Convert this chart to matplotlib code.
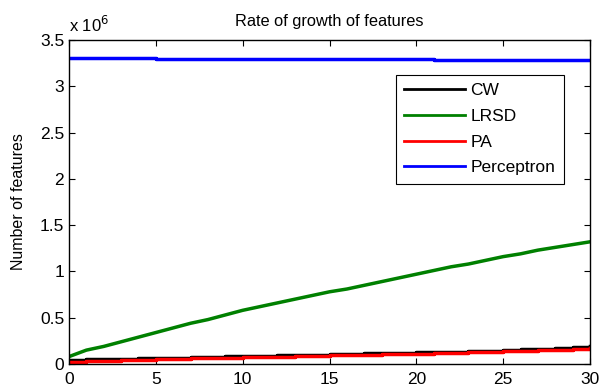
import matplotlib
matplotlib.use("Agg")
import matplotlib.pyplot as plt
import numpy as np

plt.rcParams['font.family'] = ['Liberation Sans', 'DejaVu Sans']

epochs = np.arange(0, 31)

# number of features, in millions
cw = [0.045, 0.050, 0.055, 0.058, 0.062, 0.066, 0.070, 0.074, 0.078, 0.082,
      0.086, 0.090, 0.094, 0.098, 0.102, 0.106, 0.110, 0.114, 0.118, 0.122,
      0.126, 0.130, 0.135, 0.140, 0.145, 0.150, 0.158, 0.166, 0.174, 0.184, 0.198]
lrsd = [0.08, 0.15, 0.19, 0.24, 0.29, 0.34, 0.39, 0.44, 0.48, 0.53,
        0.58, 0.62, 0.66, 0.70, 0.74, 0.78, 0.81, 0.85, 0.89, 0.93,
        0.97, 1.01, 1.05, 1.08, 1.12, 1.16, 1.19, 1.23, 1.26, 1.29, 1.32]
pa = [0.020, 0.028, 0.034, 0.040, 0.045, 0.050, 0.055, 0.060, 0.064, 0.068,
      0.072, 0.076, 0.080, 0.084, 0.088, 0.092, 0.096, 0.100, 0.104, 0.108,
      0.112, 0.117, 0.122, 0.127, 0.132, 0.137, 0.143, 0.149, 0.156, 0.163, 0.172]
perceptron = [3.300, 3.300, 3.300, 3.300, 3.300, 3.295, 3.295, 3.295, 3.295, 3.295,
              3.295, 3.290, 3.290, 3.290, 3.290, 3.290, 3.290, 3.290, 3.290, 3.290,
              3.290, 3.285, 3.285, 3.285, 3.285, 3.285, 3.285, 3.285, 3.285, 3.285, 3.285]

fig = plt.figure(figsize=(5.99, 3.92), dpi=100)
ax = fig.add_axes([0.1152, 0.0714, 0.8698, 0.8266])

ax.plot(epochs, cw, color='black', lw=2.5, label='CW', drawstyle='steps-post')
ax.plot(epochs, lrsd, color='#008000', lw=2.5, label='LRSD')
ax.plot(epochs, pa, color='red', lw=2.5, label='PA', drawstyle='steps-post')
ax.plot(epochs, perceptron, color='blue', lw=2.5, label='Perceptron', drawstyle='steps-post')

ax.set_xlim(0, 30)
ax.set_ylim(0, 3.5)
ax.set_xticks(np.arange(0, 31, 5))
ax.set_yticks(np.arange(0, 3.6, 0.5))
ax.set_yticklabels(['0', '0.5', '1', '1.5', '2', '2.5', '3', '3.5'])
ax.tick_params(direction='in', top=True, right=True, labelsize=12.5, length=4, width=0.8)
ax.tick_params(axis='x', pad=6)
for s in ax.spines.values():
    s.set_linewidth(1.0)

ax.set_ylabel('Number of features', fontsize=11.5)
ax.yaxis.set_label_coords(-0.082, 0.5)
ax.set_title('Rate of growth of features', fontsize=11.8, pad=10)
ax.text(0.0, 1.015, r'x 10$^6$', transform=ax.transAxes, fontsize=12, ha='left', va='bottom')

leg = ax.legend(loc='upper right', bbox_to_anchor=(0.95, 0.893), borderaxespad=0,
                fontsize=12.5, handlelength=3.5, fancybox=False, framealpha=1,
                borderpad=0.5, labelspacing=0.6, handletextpad=0.3)
leg.get_frame().set_edgecolor('black')
leg.get_frame().set_linewidth(0.8)
for line in leg.get_lines():
    line.set_linewidth(2)

fig.savefig('out.png', dpi=100)
